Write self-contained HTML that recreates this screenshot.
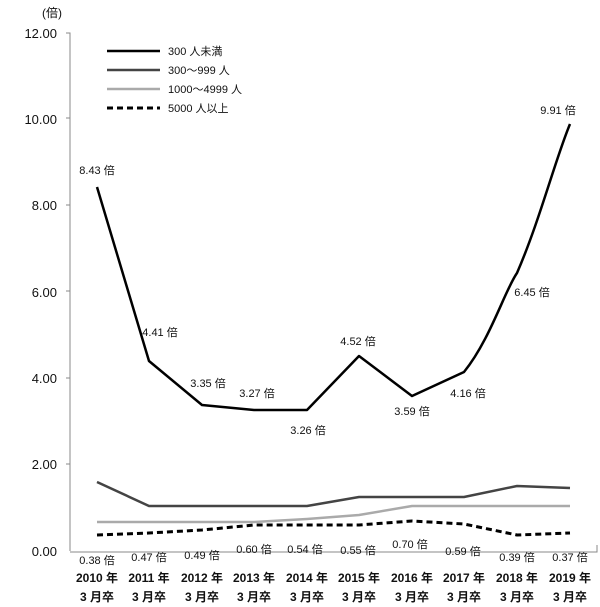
<!DOCTYPE html><html><head><meta charset="utf-8"><style>body{margin:0;background:#fff}svg{display:block}text{font-family:"Liberation Sans","Noto Sans CJK JP",sans-serif;fill:#111}</style></head><body>
<svg width="600" height="607" viewBox="0 0 600 607">
<text x="42" y="17" font-size="12">(倍)</text>
<g font-size="13" text-anchor="end">
<text x="57" y="38">12.00</text><text x="57" y="124">10.00</text><text x="57" y="210">8.00</text><text x="57" y="297">6.00</text><text x="57" y="383">4.00</text><text x="57" y="469">2.00</text><text x="57" y="556">0.00</text></g>
<path d="M66 33H70V551M66 118H70M66 205H70M66 291H70M66 378H70M66 464H70" stroke="#888" fill="none"/>
<path d="M70 552H597V545" stroke="#888" fill="none"/>
<g stroke-width="2.5" fill="none" stroke-linejoin="round">
<path d="M97 187L149 361L202 405L254 410L307 410L359 356L412 396L464 372C490 340 505 290 517 273C540 220 555 160 570 124" stroke="#000"/>
<path d="M97 482L149 506L202 506L254 506L307 506L359 497L412 497L464 497L517 486L570 488" stroke="#444"/>
<path d="M97 522L149 522L202 522L254 522L307 519L359 515L412 506L464 506L517 506L570 506" stroke="#aaa"/>
<path d="M97 535L149 533L202 530L254 525L307 525L359 525L412 521L464 524L517 535L570 533" stroke="#000" stroke-dasharray="6,4" stroke-width="3"/>
</g>
<g stroke-width="2.5"><path d="M107 51H160" stroke="#000"/><path d="M107 70H160" stroke="#444"/><path d="M107 89H160" stroke="#aaa"/><path d="M107 108H160" stroke="#000" stroke-dasharray="6,4" stroke-width="3"/></g>
<g font-size="11"><text x="168" y="55">300 人未満</text><text x="168" y="74">300～999 人</text><text x="168" y="93">1000～4999 人</text><text x="168" y="112">5000 人以上</text></g>
<g font-size="11" text-anchor="middle">
<text x="97" y="174">8.43 倍</text><text x="160" y="336">4.41 倍</text><text x="208" y="387">3.35 倍</text><text x="257" y="397">3.27 倍</text><text x="308" y="434">3.26 倍</text><text x="358" y="345">4.52 倍</text><text x="412" y="415">3.59 倍</text><text x="468" y="397">4.16 倍</text><text x="532" y="296">6.45 倍</text><text x="558" y="114">9.91 倍</text>
<text x="97" y="564">0.38 倍</text><text x="149" y="561">0.47 倍</text><text x="202" y="559">0.49 倍</text><text x="254" y="553">0.60 倍</text><text x="305" y="553">0.54 倍</text><text x="358" y="554">0.55 倍</text><text x="410" y="548">0.70 倍</text><text x="463" y="555">0.59 倍</text><text x="517" y="561">0.39 倍</text><text x="570" y="561">0.37 倍</text></g>
<g font-size="12" text-anchor="middle" font-weight="bold">
<text x="97" y="582">2010 年</text><text x="149" y="582">2011 年</text><text x="202" y="582">2012 年</text><text x="254" y="582">2013 年</text><text x="307" y="582">2014 年</text><text x="359" y="582">2015 年</text><text x="412" y="582">2016 年</text><text x="464" y="582">2017 年</text><text x="517" y="582">2018 年</text><text x="570" y="582">2019 年</text>
<text x="97" y="601">3 月卒</text><text x="149" y="601">3 月卒</text><text x="202" y="601">3 月卒</text><text x="254" y="601">3 月卒</text><text x="307" y="601">3 月卒</text><text x="359" y="601">3 月卒</text><text x="412" y="601">3 月卒</text><text x="464" y="601">3 月卒</text><text x="517" y="601">3 月卒</text><text x="570" y="601">3 月卒</text></g>
</svg></body></html>
